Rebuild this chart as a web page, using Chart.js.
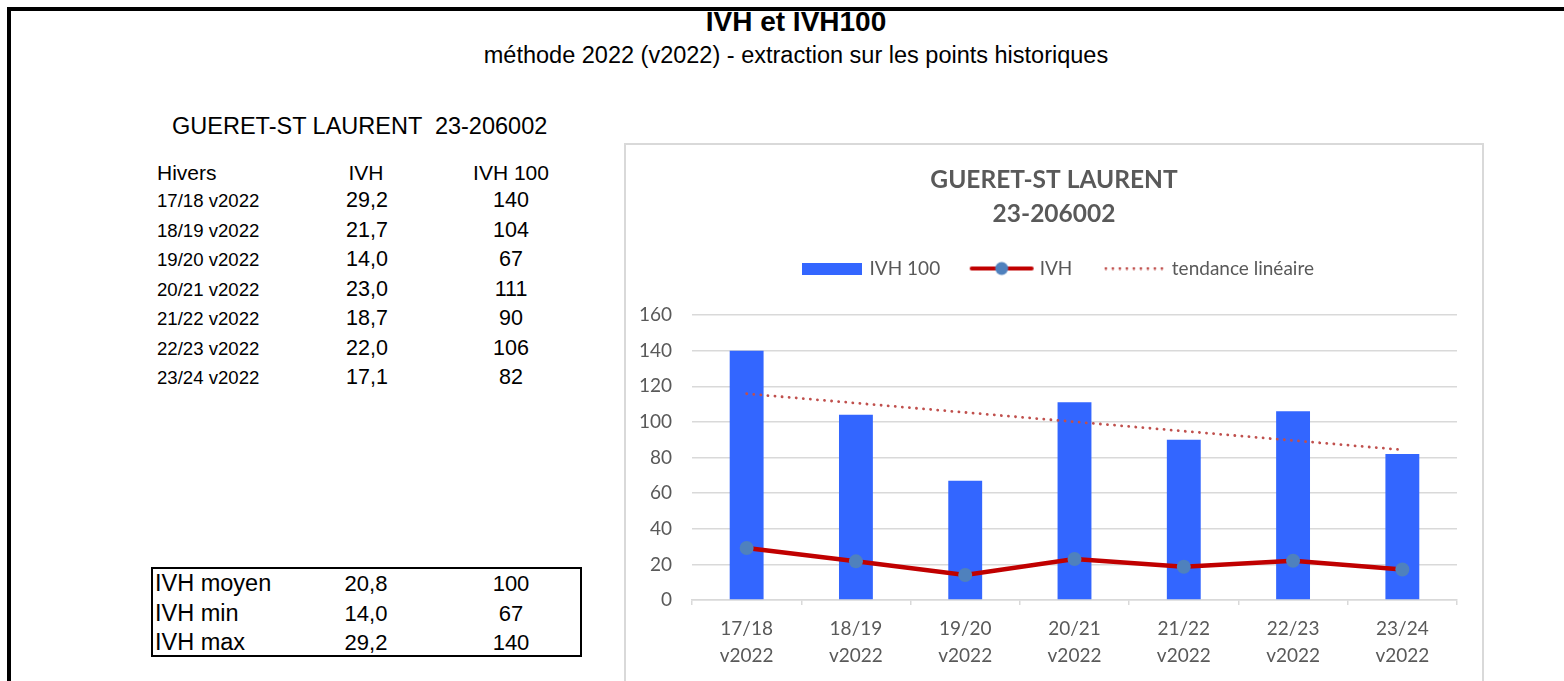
<!DOCTYPE html>
<html lang="fr">
<head>
<meta charset="utf-8">
<title>IVH et IVH100</title>
<script src="https://cdn.jsdelivr.net/npm/chart.js@4.4.1/dist/chart.umd.min.js"></script>
<style>
  html, body { margin: 0; padding: 0; background: #fff; }
  body { width: 1564px; height: 681px; overflow: hidden; position: relative;
         font-family: "Liberation Sans", Arial, sans-serif; color: #000; }
  .cadre { position: absolute; left: 7px; top: 7px; width: 1600px; height: 700px;
           border-top: 4px solid #000; border-left: 4px solid #000; }
  .txt { position: absolute; white-space: pre; line-height: 1; }
  .centre { transform: translate(-50%, -50%); }
  .gauche { transform: translate(0, -50%); }
  .resume { position: absolute; left: 151px; top: 567px; width: 431px; height: 90px;
            border: 2px solid #000; box-sizing: border-box; }
  .boite-graph { position: absolute; left: 624px; top: 143px; width: 860px; height: 560px;
                 border: 2px solid #d9d9d9; box-sizing: border-box; background: #fff; }
  .boite-graph canvas { position: absolute; left: 0; top: 0; }
</style>
</head>
<body>
<div class="cadre"></div>
<div class="txt centre" style="left:796px; top:22px; font-size:28px; font-weight:bold;">IVH et IVH100</div>
<div class="txt centre" style="left:796px; top:56px; font-size:23.5px;">méthode 2022 (v2022) - extraction sur les points historiques</div>
<div class="txt gauche" style="left:172px; top:127px; font-size:23.5px;">GUERET-ST LAURENT  23-206002</div>
<div id="tableau"></div>
<div class="resume"></div>
<div class="boite-graph"><canvas id="graph" width="856" height="556"></canvas></div>

<script>
const hivers = ["17/18 v2022", "18/19 v2022", "19/20 v2022", "20/21 v2022", "21/22 v2022", "22/23 v2022", "23/24 v2022"];
const ivh = [29.2, 21.7, 14.0, 23.0, 18.7, 22.0, 17.1];
const ivh100 = [140, 104, 67, 111, 90, 106, 82];
// tendance linéaire : extrémités
const tendance = [115.8, null, null, null, null, null, 84.3];
const resumeLib = ["IVH moyen", "IVH min", "IVH max"];
const resumeIvh = [20.8, 14.0, 29.2];
const resumeIvh100 = [100, 67, 140];
const ticksY = [0, 20, 40, 60, 80, 100, 120, 140, 160];

const virgule = v => v.toFixed(1).replace(".", ",");

// --- tableau de gauche ---
const tab = document.getElementById("tableau");
function ajoute(texte, x, y, taille, classe) {
    const d = document.createElement("div");
    d.className = "txt " + classe;
    d.style.left = x + "px";
    d.style.top = y + "px";
    d.style.fontSize = taille + "px";
    d.textContent = texte;
    tab.appendChild(d);
}
ajoute("Hivers", 157, 172, 21, "gauche");
ajoute("IVH", 366, 172, 21, "centre");
ajoute("IVH 100", 511, 172, 21, "centre");
hivers.forEach((h, i) => {
    const y = 201 + i * 29.5;
    ajoute(h, 157, y, 18.6, "gauche");
    ajoute(virgule(ivh[i]), 367, y, 21.5, "centre");
    ajoute(String(ivh100[i]), 511, y, 21.5, "centre");
});
resumeLib.forEach((l, i) => {
    const y = 584 + i * 29.5;
    ajoute(l, 155, y, 23.5, "gauche");
    ajoute(virgule(resumeIvh[i]), 366, y, 22, "centre");
    ajoute(String(resumeIvh100[i]), 511, y, 22, "centre");
});

// --- symboles de légende dessinés à la main ---
function symbole(w, h, dessin) {
    const c = document.createElement("canvas");
    c.width = w; c.height = h;
    dessin(c.getContext("2d"));
    return c;
}
const symBarre = symbole(60, 12, ctx => { ctx.fillStyle = "#3366ff"; ctx.fillRect(0, 0, 60, 12); });
const symLigne = symbole(66, 16, ctx => {
    ctx.strokeStyle = "#c00000"; ctx.lineWidth = 4; ctx.lineCap = "round";
    ctx.beginPath(); ctx.moveTo(3, 8); ctx.lineTo(63, 8); ctx.stroke();
    ctx.fillStyle = "#4f81bd"; ctx.beginPath(); ctx.arc(33, 8, 6.5, 0, Math.PI * 2); ctx.fill();
});
const symTendance = symbole(60, 4, ctx => {
    ctx.fillStyle = "#c0504d";
    for (let x = 2; x < 60; x += 7) { ctx.beginPath(); ctx.arc(x, 2, 1.4, 0, Math.PI * 2); ctx.fill(); }
});

// Le titre et la légende sont centrés sur la boîte entière, pas sur la zone de tracé
const recentrage = {
    id: "recentrage",
    afterLayout(chart) {
        if (chart.titleBlock) { chart.titleBlock.left += 12.5; chart.titleBlock.right += 12.5; }
        if (chart.legend) {
            chart.legend.left += 17; chart.legend.right += 17;
            chart.legend.top -= 5; chart.legend.bottom -= 5;
        }
    },
};

const gris = "#595959";
const grille = "#d9d9d9";
const police = '"Lato", "Open Sans", sans-serif';

new Chart(document.getElementById("graph"), {
    data: {
        labels: hivers.map(h => h.split(" ")),
        datasets: [
            { type: "bar", label: "IVH 100", data: ivh100, backgroundColor: "#3366ff",
              barPercentage: 0.31, categoryPercentage: 1, order: 3 },
            { type: "line", label: "IVH", data: ivh, borderColor: "#c00000", borderWidth: 4.5,
              pointRadius: 7, pointBackgroundColor: "#4f81bd", pointBorderWidth: 0, order: 1 },
            { type: "line", label: "tendance linéaire", data: tendance, spanGaps: true,
              borderColor: "#c0504d", borderWidth: 2.8, borderDash: [0.1, 7], borderCapStyle: "round",
              pointRadius: 0, order: 2 },
        ],
    },
    plugins: [recentrage],
    options: {
        responsive: false,
        animation: false,
        events: [],
        layout: { padding: { left: 0, right: 25, top: 0, bottom: 0 } },
        plugins: {
            tooltip: { enabled: false },
            title: {
                display: true,
                text: ["GUERET-ST LAURENT", "23-206002"],
                color: gris,
                font: { family: police, size: 24.5, weight: "bold", lineHeight: "34px" },
                padding: { top: 18, bottom: 0 },
            },
            legend: {
                display: true,
                labels: {
                    color: gris,
                    font: { family: police, size: 19 },
                    usePointStyle: true,
                    pointStyleWidth: 57,
                    padding: 33,
                    generateLabels: () => [
                        { text: "IVH 100", pointStyle: symBarre, fontColor: gris, lineWidth: 0 },
                        { text: "IVH", pointStyle: symLigne, fontColor: gris, lineWidth: 0 },
                        { text: "tendance linéaire", pointStyle: symTendance, fontColor: gris, lineWidth: 0 },
                    ],
                },
            },
            // espace entre la légende et la zone de tracé
            subtitle: {
                display: true, text: "", weight: 500, padding: 0,
                font: { size: 22, lineHeight: 1 },
            },
        },
        scales: {
            x: {
                offset: true,
                grid: { display: true, offset: true, drawOnChartArea: false, drawTicks: true,
                        tickLength: 5, color: grille, lineWidth: 1.5 },
                border: { display: true, color: grille, width: 1.5 },
                ticks: { color: gris, font: { family: police, size: 19, lineHeight: 1.45 },
                         padding: 10, maxRotation: 0, autoSkip: false },
                afterFit: s => { s.height = 101; },
            },
            y: {
                min: 0, max: 160,
                afterBuildTicks: s => { s.ticks = ticksY.map(v => ({ value: v })); },
                grid: { color: grille, lineWidth: 1.5, drawTicks: false },
                border: { display: false },
                ticks: { color: gris, font: { family: police, size: 19 }, padding: 20 },
                afterFit: s => { s.width = 66; },
            },
        },
    },
});
</script>
</body>
</html>
